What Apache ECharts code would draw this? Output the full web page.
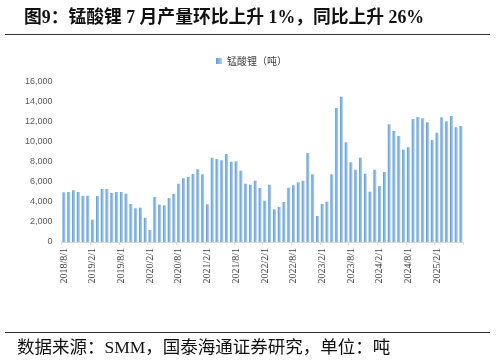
<!DOCTYPE html>
<html><head><meta charset="utf-8">
<script src="https://cdn.jsdelivr.net/npm/echarts@6/dist/echarts.min.js"></script>
<style>html,body{margin:0;padding:0;background:#fff;}#c{width:496px;height:362px;}</style>
</head><body><div id="c"></div>
<script>
// Monthly categories 2018/8/1 .. 2025/7/1
const categories = [
 '2018/8/1','2018/9/1','2018/10/1','2018/11/1','2018/12/1',
 '2019/1/1','2019/2/1','2019/3/1','2019/4/1','2019/5/1','2019/6/1','2019/7/1','2019/8/1','2019/9/1','2019/10/1','2019/11/1','2019/12/1',
 '2020/1/1','2020/2/1','2020/3/1','2020/4/1','2020/5/1','2020/6/1','2020/7/1','2020/8/1','2020/9/1','2020/10/1','2020/11/1','2020/12/1',
 '2021/1/1','2021/2/1','2021/3/1','2021/4/1','2021/5/1','2021/6/1','2021/7/1','2021/8/1','2021/9/1','2021/10/1','2021/11/1','2021/12/1',
 '2022/1/1','2022/2/1','2022/3/1','2022/4/1','2022/5/1','2022/6/1','2022/7/1','2022/8/1','2022/9/1','2022/10/1','2022/11/1','2022/12/1',
 '2023/1/1','2023/2/1','2023/3/1','2023/4/1','2023/5/1','2023/6/1','2023/7/1','2023/8/1','2023/9/1','2023/10/1','2023/11/1','2023/12/1',
 '2024/1/1','2024/2/1','2024/3/1','2024/4/1','2024/5/1','2024/6/1','2024/7/1','2024/8/1','2024/9/1','2024/10/1','2024/11/1','2024/12/1',
 '2025/1/1','2025/2/1','2025/3/1','2025/4/1','2025/5/1','2025/6/1','2025/7/1'
];
// 锰酸锂产量（吨）
const lmoOutput = [
 4970,5000,5170,5000,4630,
 4630,2230,4600,5300,5300,4900,5000,5000,4830,3800,3370,3430,
 2430,1200,4500,3730,3670,4400,4800,5830,6370,6500,6800,7270,
 6770,3770,8430,8300,8170,8800,8030,8070,7130,5830,5730,6130,
 5400,4130,5730,3270,3500,4000,5430,5670,5970,6130,8900,6770,
 2600,3800,4030,6770,13400,14530,9970,7970,7230,8430,6830,5030,
 7230,5600,7000,11770,11100,10600,9230,9470,12300,12500,12370,11970,
 10200,10930,12470,12070,12600,11480,11600
];
const yTicks = {min:0, max:16000, interval:2000};

const chart = echarts.init(document.getElementById('c'), null, {renderer:'canvas'});
chart.setOption({
  animation:false,
  backgroundColor:'#fff',
  title:{
    text:'图9：锰酸锂 7 月产量环比上升 1%，同比上升 26%',
    left:19, top:5,
    textStyle:{fontFamily:"'Liberation Serif','Noto Sans CJK SC'",fontWeight:'bold',fontSize:17.8,color:'#111'}
  },
  legend:{
    data:['锰酸锂（吨）'], left:211, top:51, itemWidth:6, itemHeight:6, itemGap:4,
    icon:'rect',
    textStyle:{fontFamily:"'Noto Sans CJK SC'",fontSize:10,color:'#404040'}
  },
  grid:{left:61.6, right:32.6, top:82, bottom:120, containLabel:false},
  xAxis:{
    type:'category', data:categories, boundaryGap:true,
    axisLine:{lineStyle:{color:'#d9d9d9'}},
    axisTick:{show:true, interval:5, length:3, lineStyle:{color:'#d9d9d9'}},
    axisLabel:{interval:5, rotate:90, margin:6, fontFamily:"'Liberation Serif'", fontSize:10, color:'#404040'}
  },
  yAxis:{
    type:'value', min:yTicks.min, max:yTicks.max, interval:yTicks.interval,
    splitLine:{show:false}, axisLine:{show:false}, axisTick:{show:false},
    axisLabel:{margin:9, fontFamily:"'Liberation Sans'", fontSize:9, color:'#595959',
      formatter:v=>v.toLocaleString('en-US')}
  },
  series:[{
    name:'锰酸锂（吨）', type:'bar', data:lmoOutput, barWidth:3,
    itemStyle:{color:new echarts.graphic.LinearGradient(0,0,1,0,[
      {offset:0,color:'#5b9bd5'},{offset:1,color:'#b4d2ef'}])}
  }],
  graphic:[
    {type:'line', shape:{x1:5,y1:34.5,x2:490,y2:34.5}, style:{stroke:'#333',lineWidth:1}},
    {type:'line', shape:{x1:5,y1:332.5,x2:490,y2:332.5}, style:{stroke:'#333',lineWidth:1}},
    {type:'text', left:17, top:340, style:{text:'数据来源：SMM，国泰海通证券研究，单位：吨',
      fontFamily:"'Liberation Serif','Noto Sans CJK SC'", fontSize:17.5, fill:'#111'}}
  ]
});
</script></body></html>
